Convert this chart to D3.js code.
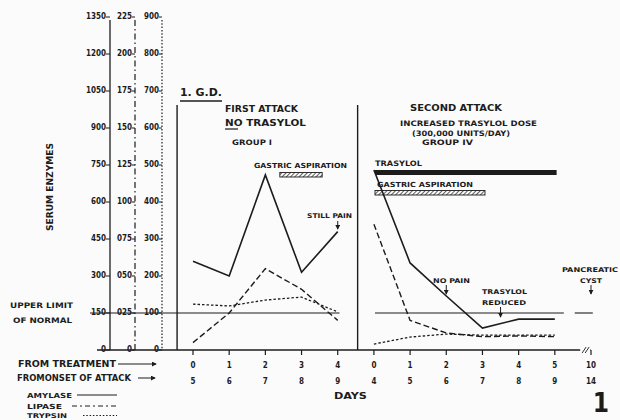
<!DOCTYPE html>
<html><head><meta charset="utf-8">
<script src="https://cdn.jsdelivr.net/npm/d3@7"></script>
<style>
html,body{margin:0;padding:0;background:#fbfbfb;}
svg{display:block;}
text{font-family:"DejaVu Sans Condensed","Liberation Sans Narrow","Liberation Sans",sans-serif;font-weight:bold;fill:#1c1c1c;}
</style></head>
<body>
<svg id="c" width="620" height="420"></svg>
<script>
// ---- data ----
const treatDays = ["0","1","2","3","4","0","1","2","3","4","5","10"];
const onsetDays = ["5","6","7","8","9","4","5","6","7","8","9","14"];
const amylaseTicks = [0,150,300,450,600,750,900,1050,1200,1350];
const lipaseTicks = [0,0.25,0.5,0.75,1.0,1.25,1.5,1.75,2.0,2.25];
const lipaseTickLabels = ["0","025","050","075","100","125","150","175","200","225"];
const trypsinTicks = [0,100,200,300,400,500,600,700,800,900];
const upperLimitAmylase = 150;

const attack1Index = [0,1,2,3,4];
const attack1Amylase = [360,300,710,315,480];
const attack1Lipase = [0.05,0.25,0.55,0.41,0.20];
const attack1Trypsin = [124,119,135,143,103];

const attack2Index = [5,6,7,8,9,10];
const attack2Amylase = [730,353,219,89,125,125];
const attack2Lipase = [0.85,0.20,0.115,0.09,0.095,0.09];
const attack2Trypsin = [16,35,43,40,40,40];

// ---- scales ----
const svg = d3.select("#c");
const ink = "#1c1c1c";
const x = d3.scaleLinear().domain([0,11]).range([193,591]);
const yA = d3.scaleLinear().domain([0,1350]).range([350,17]);
const yL = d3.scaleLinear().domain([0,2.25]).range([350,17]);
const yT = d3.scaleLinear().domain([0,900]).range([350,17]);

const defs = svg.append("defs");
const pat = defs.append("pattern").attr("id","hatch").attr("patternUnits","userSpaceOnUse")
  .attr("width",3).attr("height",3).attr("patternTransform","rotate(45)");
pat.append("rect").attr("width",3).attr("height",3).attr("fill","#fbfbfb");
pat.append("line").attr("x1",0).attr("y1",0).attr("x2",0).attr("y2",3).attr("stroke",ink).attr("stroke-width",1.4);
defs.append("marker").attr("id","arr").attr("viewBox","0 0 6 6").attr("refX",5).attr("refY",3)
  .attr("markerWidth",5).attr("markerHeight",5).attr("orient","auto")
  .append("path").attr("d","M0,0L6,3L0,6Z").attr("fill",ink);

function txt(x0, cy, s, opt={}){
  const t = svg.append("text").attr("x",x0).attr("y",cy + (opt.size||8)*0.36)
    .attr("font-size",(opt.size||8)+"px").attr("text-anchor",opt.anchor||"start").text(s);
  if(opt.w){ t.attr("textLength",opt.w).attr("lengthAdjust","spacingAndGlyphs"); }
  return t;
}
function line(x1,y1,x2,y2,w=1,dash=null){
  const l = svg.append("line").attr("x1",x1).attr("y1",y1).attr("x2",x2).attr("y2",y2)
    .attr("stroke",ink).attr("stroke-width",w);
  if(dash) l.attr("stroke-dasharray",dash);
  return l;
}

// ---- vertical enzyme axes ----
const axA = 110, axL = 135, axT = 162;
line(axA, yA(1350)+3, axA, yA(0), 1.3);
line(axL, yL(2.25)+3, axL, yL(0), 1.2, "6,3,1.5,3");
line(axT, yT(900)+3, axT, yT(0), 1.2, "1.5,1.8");
amylaseTicks.forEach(v=>{
  line(axA-4, yA(v), axA, yA(v), 1);
  txt(axA-4, yA(v)-1, String(v), {anchor:"end", size:8});
});
lipaseTicks.forEach((v,i)=>{
  line(axL-3, yL(v), axL, yL(v), 1);
  txt(axL-3, yL(v)-1, lipaseTickLabels[i], {anchor:"end", size:8});
});
trypsinTicks.forEach(v=>{
  line(axT-3, yT(v), axT, yT(v), 1);
  txt(axT-3, yT(v)-1, String(v), {anchor:"end", size:8});
});
txt(0,0,"SERUM ENZYMES",{size:8, anchor:"middle", w:88}).attr("transform","translate(50,187) rotate(-90)").attr("x",0).attr("y",3);

// ---- horizontal axis ----
line(97, 350, x(10.7), 350, 1.4);
line(x(10.7)+2, 353, x(10.7)+6, 347, 0.9);
line(x(10.7)+5, 353, x(10.7)+9, 347, 0.9);
line(x(10.7)+10, 350, x(11), 350, 1.2);
treatDays.forEach((d,i)=>{
  line(x(i), 350, x(i), 355, 1.2);
  txt(x(i), 365, d, {anchor:"middle", size:8});
  txt(x(i), 381, onsetDays[i], {anchor:"middle", size:8});
});
txt(x(4.35), 396, "DAYS", {anchor:"middle", size:8, w:33});
txt(18, 364, "FROM  TREATMENT", {size:8, w:98});
line(118, 364, 156, 364, 1).attr("marker-end","url(#arr)");
txt(17, 378, "FROMONSET OF ATTACK", {size:8, w:114});
line(138, 378, 155, 378, 1).attr("marker-end","url(#arr)");

// ---- legend ----
txt(27, 395, "AMYLASE", {size:7, w:45});
line(77, 395, 117, 395, 1.2);
txt(27, 406, "LIPASE", {size:7, w:35});
line(72, 406, 117, 406, 1.2, "5,3,2,3");
txt(27, 415.5, "TRYPSIN", {size:6.5, w:40});
line(83, 415.5, 117, 415.5, 1.2, "1.5,1.8");

// ---- panel separators ----
line(x(-0.44), 105, x(-0.44), 350, 1.4);
line(x(4.55), 105, x(4.55), 350, 1.4);

// ---- upper limit of normal ----
line(90, yA(upperLimitAmylase), x(4.05), yA(upperLimitAmylase), 1.1);
line(x(5.03), yA(upperLimitAmylase), x(10.25), yA(upperLimitAmylase), 1.1);
line(x(10.55), yA(upperLimitAmylase), x(11.05), yA(upperLimitAmylase), 1.1);
txt(10, 305, "UPPER LIMIT", {size:7.5, w:63});
txt(13, 320, "OF NORMAL", {size:7.5, w:59});

// ---- titles ----
txt(180, 92, "1. G.D.", {size:11, w:42});
line(180, 101, 222, 101, 1.5);
txt(225, 109, "FIRST ATTACK", {size:8, w:73});
txt(225, 123, "NO TRASYLOL", {size:8, w:81});
line(225, 129, 238, 129, 1.2);
txt(232, 142, "GROUP I", {size:7.5, w:40});
txt(254, 165, "GASTRIC ASPIRATION", {size:7, w:93});
svg.append("rect").attr("x",x(2.4)).attr("y",172.5).attr("width",x(3.57)-x(2.4)).attr("height",4.5)
  .attr("fill","url(#hatch)").attr("stroke",ink).attr("stroke-width",0.9);

txt(410, 108, "SECOND  ATTACK", {size:8, w:92});
txt(400, 123, "INCREASED TRASYLOL DOSE", {size:7.5, w:137});
txt(412, 133, "(300,000 UNITS/DAY)", {size:7.5, w:98});
txt(422, 142, "GROUP IV", {size:7.5, w:51});
txt(375, 163, "TRASYLOL", {size:7.5, w:47});
svg.append("rect").attr("x",x(5.03)).attr("y",170).attr("width",x(10.05)-x(5.03)).attr("height",5).attr("fill",ink);
txt(377, 184, "GASTRIC ASPIRATION", {size:7, w:96});
svg.append("rect").attr("x",x(5.03)).attr("y",190.5).attr("width",x(8.07)-x(5.03)).attr("height",4.5)
  .attr("fill","url(#hatch)").attr("stroke",ink).attr("stroke-width",0.9);

// ---- series ----
function series(idx, vals, yS, w, dash){
  const g = d3.line().x((d,i)=>x(idx[i])).y(d=>yS(d));
  const p = svg.append("path").datum(vals).attr("d",g).attr("fill","none")
    .attr("stroke",ink).attr("stroke-width",w).attr("stroke-linejoin","miter");
  if(dash) p.attr("stroke-dasharray",dash);
}
series(attack1Index, attack1Amylase, yA, 1.6);
series(attack1Index, attack1Lipase, yL, 1.4, "6,3");
series(attack1Index, attack1Trypsin, yT, 1.3, "2.5,2");
series(attack2Index, attack2Amylase, yA, 1.6);
series(attack2Index, attack2Lipase, yL, 1.4, "6,3");
series(attack2Index, attack2Trypsin, yT, 1.3, "2.5,2");

// ---- annotations ----
txt(307, 216, "STILL PAIN", {size:6.5, w:45});
line(x(4), 221, x(4), 229, 1).attr("marker-end","url(#arr)");
txt(433, 281, "NO PAIN", {size:6.5, w:37});
line(x(7), 285, x(7), 294, 1).attr("marker-end","url(#arr)");
txt(482, 292, "TRASYLOL", {size:6.5, w:45});
txt(482, 303, "REDUCED", {size:6.5, w:44});
line(x(8.5), 307, x(8.5), 317, 1).attr("marker-end","url(#arr)");
txt(562, 270, "PANCREATIC", {size:6.5, w:56});
txt(580, 281, "CYST", {size:6.5, w:22});
line(x(11), 285, x(11), 294, 1).attr("marker-end","url(#arr)");

txt(601, 403, "1", {size:26, anchor:"middle"});
</script>
</body></html>
